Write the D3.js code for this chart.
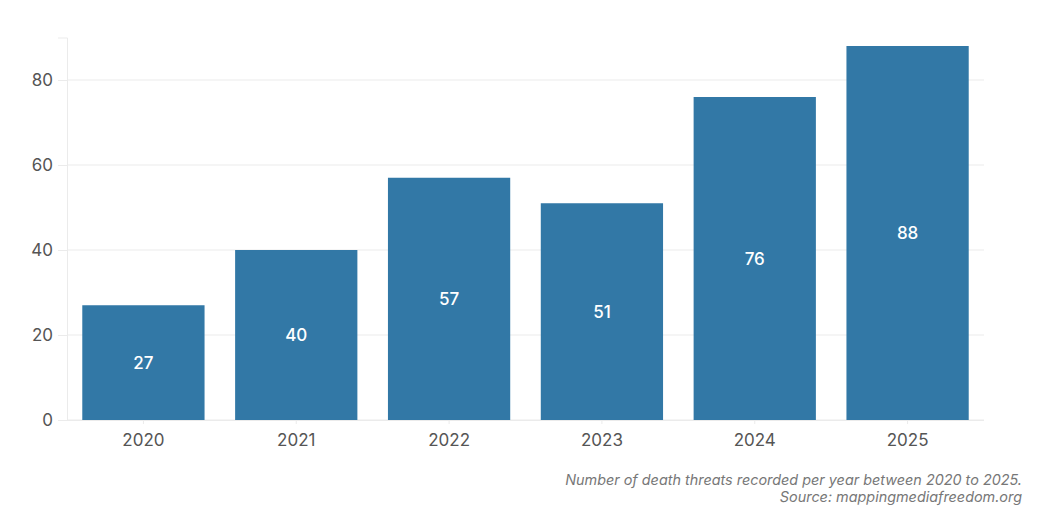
<!DOCTYPE html>
<html><head><meta charset="utf-8">
<script src="https://cdn.jsdelivr.net/npm/d3@7"></script>
<style>
body{margin:0;background:#fff;}
svg{display:block;font-family:Inter, "Noto Sans", sans-serif;}
</style></head>
<body>
<svg id="chart" width="1040" height="506"></svg>
<script>
const years = ["2020","2021","2022","2023","2024","2025"];
const threats = [27, 40, 57, 51, 76, 88];
const yTicks = [0, 20, 40, 60, 80];
const captionLines = ["Number of death threats recorded per year between 2020 to 2025.", "Source: mappingmediafreedom.org"];

(function () {
const svg = d3.select("#chart");
const mLeft = 67, mRight = 984, mTop = 37.5, mBottom = 420;
const x = d3.scaleBand().domain(years).range([mLeft, mRight]).paddingInner(0.2).paddingOuter(0.1);
const y = d3.scaleLinear().domain([0, 90]).range([mBottom, mTop]);

// gridlines
svg.append("g").selectAll("line").data(yTicks).join("line")
  .attr("x1", mLeft).attr("x2", mRight)
  .attr("y1", d => y(d)).attr("y2", d => y(d))
  .attr("stroke", "#ebebeb").attr("stroke-width", 1);

// y axis
const yAxis = svg.append("g").attr("transform", `translate(${mLeft},0)`)
  .call(d3.axisLeft(y).tickValues(yTicks).tickSize(9).tickPadding(5));
yAxis.select(".domain").attr("stroke", "#ebebeb");
yAxis.selectAll(".tick line").attr("stroke", "#ebebeb");
yAxis.selectAll("text").attr("fill", "#555").style("font-size", "17px").style("font-family", "Inter");

// x axis
const xAxis = svg.append("g").attr("transform", `translate(0,${mBottom})`)
  .call(d3.axisBottom(x).tickSize(4).tickPadding(10));
xAxis.select(".domain").attr("stroke", "#ebebeb").attr("d", `M${mLeft},0.5H${mRight}`);
xAxis.selectAll(".tick line").attr("stroke", "#ebebeb");
xAxis.selectAll("text").attr("fill", "#555").style("font-size", "17px").style("font-family", "Inter");

// bars
svg.append("g").selectAll("rect").data(years).join("rect")
  .attr("x", d => x(d)).attr("width", x.bandwidth())
  .attr("y", (d, i) => y(threats[i]))
  .attr("height", (d, i) => y(0) - y(threats[i]))
  .attr("fill", "#3278a6");

// value labels
svg.append("g").selectAll("text").data(years).join("text")
  .attr("x", d => x(d) + x.bandwidth() / 2)
  .attr("y", (d, i) => (y(threats[i]) + y(0)) / 2)
  .attr("text-anchor", "middle").attr("dominant-baseline", "central")
  .attr("fill", "#fff").style("font-size", "17px").style("font-weight", 500)
  .text((d, i) => threats[i]);

// caption
svg.append("g").selectAll("text").data(captionLines).join("text")
  .attr("x", 1022).attr("y", (d, i) => 485 + i * 17)
  .attr("text-anchor", "end").attr("fill", "#777")
  .style("font-size", "14.4px").style("font-style", "italic")
  .text(d => d);
})();
</script>
</body></html>
